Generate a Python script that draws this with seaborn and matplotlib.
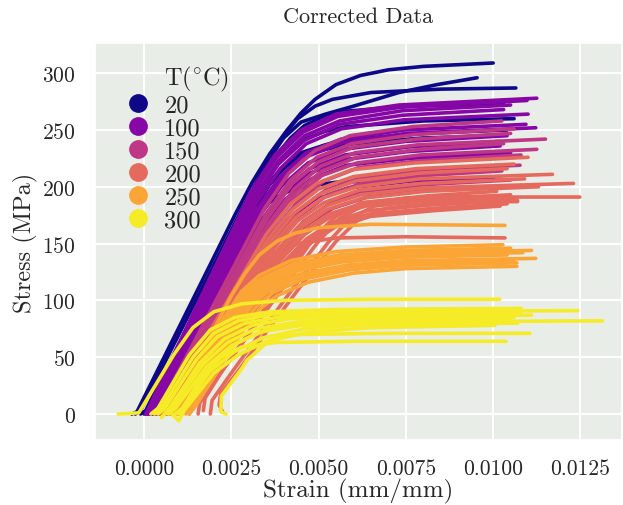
import matplotlib
matplotlib.use("Agg")
import matplotlib.pyplot as plt
import matplotlib.colors as mcolors
from matplotlib.lines import Line2D
import pandas as pd
import seaborn as sns

# ---------------- data (strain in milli-strain, stress in MPa) ----------------
temperatures = [20, 100, 150, 200, 250, 300]

curves_20 = [
    [(-0.35, 0), (-0.2, 2), (2.6, 175), (3.1, 204), (3.6, 229), (4.1, 250), (4.5, 265), (4.9, 277), (5.5, 290), (6.2, 298), (7.0, 303), (8.0, 306), (10.0, 309)],
    [(-0.25, 0), (-0.1, 3), (2.8, 180), (3.2, 203), (3.6, 225), (4.0, 243), (4.5, 257), (5.2, 264), (6.0, 271), (7.3, 283), (8.4, 290), (9.54, 296)],
    [(-0.1, 0), (0.05, 3), (3.0, 185), (3.35, 209), (3.7, 230), (4.05, 247), (4.4, 260), (4.9, 271), (5.4, 277), (6.5, 283), (8.5, 286), (10.65, 287)],
    [(0.0, 0), (0.1, 3), (3.1, 190), (3.45, 211), (3.8, 228), (4.2, 243), (4.6, 254), (5.1, 261), (5.6, 266), (7.5, 271), (10.3, 273)],
    [(0.05, 0), (0.2, 3), (3.1, 183), (3.45, 203), (3.8, 220), (4.2, 233), (4.6, 242), (5.2, 249), (5.8, 253), (8.0, 258), (10.6, 260)],
    [(0.1, 0), (0.25, 3), (3.0, 173), (3.35, 192), (3.7, 208), (4.1, 221), (4.5, 230), (5.2, 237), (6.0, 242), (8.0, 247), (10.4, 250)],
    [(0.15, 0), (0.3, 3), (2.9, 165), (3.25, 185), (3.6, 202), (4.0, 216), (4.4, 226), (5.2, 233), (6.0, 238), (8.0, 243), (10.2, 245)],
    [(0.2, 0), (0.35, 3), (2.8, 155), (3.1, 170), (3.4, 182), (3.8, 191), (4.2, 197), (4.8, 201), (5.5, 204), (10.0, 208)],
]

curves_100 = [
    [(0.05, 0), (3.05, 195), (3.75, 228), (4.5, 250), (5.5, 264), (7.3, 272), (11.25, 278)],
    [(0.1, 0), (3.1, 193), (3.8, 226), (4.55, 248), (5.55, 262), (7.35, 270), (10.97, 276)],
    [(0.15, 0), (3.15, 190), (3.85, 223), (4.6, 245), (5.6, 258), (7.4, 267), (10.5, 272)],
    [(0.15, 0), (3.15, 188), (3.85, 220), (4.6, 241), (5.6, 255), (7.4, 263), (10.3, 268)],
    [(0.2, 0), (3.2, 185), (3.9, 216), (4.65, 238), (5.65, 251), (7.45, 259), (11.0, 264)],
    [(0.2, 0), (3.2, 179), (3.9, 209), (4.65, 230), (5.65, 242), (7.45, 250), (10.94, 255)],
    [(0.25, 0), (3.25, 176), (3.95, 207), (4.7, 227), (5.7, 239), (7.5, 247), (11.22, 252)],
    [(0.25, 0), (3.25, 172), (3.95, 201), (4.7, 221), (5.7, 233), (7.5, 240), (10.4, 245)],
    [(0.3, 0), (3.3, 168), (4.0, 197), (4.75, 216), (5.75, 228), (7.55, 235), (10.2, 240)],
    [(0.3, 0), (3.3, 165), (4.0, 194), (4.75, 212), (5.75, 224), (7.55, 231), (10.2, 236)],
    [(0.35, 0), (3.35, 161), (4.05, 189), (4.8, 207), (5.8, 219), (7.6, 225), (10.5, 230)],
    [(0.4, 0), (3.4, 146), (4.1, 171), (4.85, 188), (5.85, 199), (7.65, 205), (10.2, 209)],
]

curves_150 = [
    [(0.35, 0), (3.45, 181), (4.15, 212), (4.9, 232), (5.9, 245), (7.7, 253), (10.25, 258)],
    [(0.4, 0), (3.5, 176), (4.2, 206), (4.95, 226), (5.95, 238), (7.75, 246), (10.6, 251)],
    [(0.45, 0), (3.55, 173), (4.25, 203), (5.0, 222), (6.0, 235), (7.8, 242), (10.5, 247)],
    [(0.5, 0), (3.6, 169), (4.3, 198), (5.05, 218), (6.05, 230), (7.85, 237), (11.5, 242)],
    [(0.55, 0), (3.65, 167), (4.35, 195), (5.1, 214), (6.1, 226), (7.9, 233), (10.3, 238)],
    [(0.55, 0), (3.65, 163), (4.35, 191), (5.1, 210), (6.1, 221), (7.9, 228), (11.25, 233)],
    [(0.6, 0), (3.7, 160), (4.4, 187), (5.15, 205), (6.15, 217), (7.95, 223), (10.8, 228)],
    [(0.65, 0), (3.75, 153), (4.45, 180), (5.2, 197), (6.2, 208), (8.0, 215), (10.77, 219)],
    [(0.7, 0), (3.8, 150), (4.5, 175), (5.25, 193), (6.25, 203), (8.05, 210), (10.25, 214)],
    [(0.75, 0), (3.85, 144), (4.55, 169), (5.3, 185), (6.3, 196), (8.1, 202), (10.5, 206)],
    [(0.85, 0), (3.95, 141), (4.65, 165), (5.4, 181), (6.4, 191), (8.2, 197), (10.71, 201)],
]

curves_200 = [
    [(0.5, 0), (3.5, 158), (4.2, 185), (4.95, 203), (5.95, 215), (7.75, 221), (11.0, 226)],
    [(0.55, 0), (3.55, 154), (4.25, 180), (5.0, 198), (6.0, 209), (7.8, 216), (10.6, 220)],
    [(0.6, 0), (3.6, 151), (4.3, 177), (5.05, 194), (6.05, 205), (7.85, 212), (10.4, 216)],
    [(0.65, 0), (3.65, 148), (4.35, 173), (5.1, 190), (6.1, 200), (7.9, 207), (11.7, 211)],
    [(0.7, 0), (3.7, 145), (4.4, 170), (5.15, 186), (6.15, 197), (7.95, 203), (10.9, 207)],
    [(0.75, 0), (3.75, 142), (4.45, 166), (5.2, 183), (6.2, 193), (8.0, 199), (12.3, 203)],
    [(0.8, 0), (3.8, 140), (4.5, 164), (5.25, 180), (6.25, 190), (8.05, 196), (11.3, 200)],
    [(0.85, 0), (3.85, 137), (4.55, 161), (5.3, 176), (6.3, 186), (8.1, 192), (10.1, 196)],
    [(0.9, 0), (3.9, 135), (4.6, 158), (5.35, 174), (6.35, 183), (8.15, 189), (10.5, 193)],
    [(0.95, 0), (3.95, 132), (4.65, 154), (5.4, 169), (6.4, 179), (8.2, 184), (10.7, 188)],
    [(1.0, 0), (4.0, 130), (4.7, 152), (5.45, 167), (6.45, 176), (8.25, 181), (10.4, 185)],
    [(1.05, 0), (4.05, 128), (4.75, 150), (5.5, 165), (6.5, 174), (8.3, 179), (10.2, 183)],
    [(1.55, 0), (1.6, 10), (2.1, 32), (3.0, 70), (4.0, 112), (5.0, 152), (5.6, 172), (6.3, 184), (7.5, 190), (10.3, 192)],
    [(1.9, 0), (1.95, 12), (2.5, 36), (3.3, 70), (4.3, 112), (5.3, 152), (5.9, 172), (6.6, 183), (8.0, 188), (10.6, 190)],
    [(2.25, 2), (2.15, 8), (2.2, 18), (2.7, 38), (3.5, 72), (4.5, 113), (5.5, 152), (6.1, 170), (6.9, 181), (8.2, 186), (10.7, 187)],
    [(1.7, 3), (1.75, 14), (2.2, 36), (3.0, 72), (3.9, 113), (4.8, 152), (5.4, 172), (6.2, 186), (8.0, 191), (12.48, 191)],
    [(1.3, 0), (1.4, 12), (2.0, 42), (2.7, 80), (3.3, 115), (3.8, 138), (4.4, 150), (5.5, 155), (7.5, 156), (10.34, 155)],
]

curves_250 = [
    [(0.7, 0), (0.9, 8), (2.1, 80), (2.5, 104), (2.9, 124), (3.3, 140), (3.8, 152), (4.3, 159), (5.0, 164), (6.5, 167), (10.34, 166)],
    [(0.75, 0), (0.95, 8), (2.3, 85), (2.8, 108), (3.3, 122), (4.2, 135), (5.5, 143), (7.5, 147), (10.28, 149)],
    [(0.8, 0), (1.0, 8), (2.35, 83), (2.85, 106), (3.35, 119), (4.25, 132), (5.6, 140), (7.5, 144), (10.5, 146)],
    [(0.85, 0), (1.05, 8), (2.4, 81), (2.9, 104), (3.4, 117), (4.3, 130), (5.6, 138), (7.5, 142), (11.1, 144)],
    [(0.9, 0), (1.1, 8), (2.45, 80), (2.95, 102), (3.45, 115), (4.35, 128), (5.7, 136), (7.5, 140), (10.85, 142)],
    [(0.95, 0), (1.15, 8), (2.5, 79), (3.0, 100), (3.5, 113), (4.4, 126), (5.7, 134), (7.5, 138), (10.4, 140)],
    [(1.0, 0), (1.2, 8), (2.55, 77), (3.05, 98), (3.55, 111), (4.45, 123), (5.8, 131), (7.5, 135), (11.22, 137)],
    [(1.1, 0), (1.3, 8), (2.6, 75), (3.1, 96), (3.6, 109), (4.5, 121), (5.8, 129), (7.5, 133), (10.6, 135)],
    [(1.2, 0), (1.4, 8), (2.7, 74), (3.2, 94), (3.7, 107), (4.6, 119), (5.9, 127), (7.5, 131), (10.68, 133)],
    [(1.3, 0), (1.5, 8), (2.8, 72), (3.3, 92), (3.8, 104), (4.7, 116), (6.0, 124), (7.5, 128), (10.68, 130)],
]

curves_300 = [
    [(-0.74, 0), (-0.15, 1), (0.85, 52), (1.4, 76), (2.0, 90), (2.8, 97), (4.0, 100), (6.5, 101), (10.19, 101)],
    [(0.2, 0), (0.4, 5), (1.3, 52), (1.9, 74), (2.6, 85), (3.6, 90), (5.5, 92), (10.8, 93)],
    [(0.3, 0), (0.5, 5), (1.4, 50), (2.0, 71), (2.7, 82), (3.7, 88), (5.5, 90), (12.42, 91)],
    [(0.4, 0), (0.6, 5), (1.5, 48), (2.1, 68), (2.9, 80), (4.0, 86), (6.0, 88), (10.77, 89)],
    [(0.5, -3), (0.7, 4), (1.6, 45), (2.3, 66), (3.1, 78), (4.2, 84), (6.0, 86), (11.1, 87)],
    [(0.6, 0), (0.8, 5), (1.7, 44), (2.4, 63), (3.2, 75), (4.4, 81), (6.2, 84), (10.6, 85)],
    [(0.8, 0), (1.0, -6), (1.2, 6), (2.0, 45), (2.7, 63), (3.5, 74), (4.7, 80), (6.5, 83), (10.5, 84)],
    [(0.7, 0), (0.9, 5), (1.8, 42), (2.5, 60), (3.3, 72), (4.5, 78), (6.5, 81), (13.13, 82)],
    [(0.9, 0), (1.1, 5), (1.9, 38), (2.6, 55), (3.4, 67), (4.6, 75), (6.5, 79), (10.7, 80)],
    [(1.0, 0), (1.2, 5), (2.0, 36), (2.7, 52), (3.5, 64), (4.7, 72), (6.5, 76), (10.05, 78)],
    [(0.9, 0), (1.1, 5), (1.7, 35), (2.2, 50), (2.8, 59), (3.8, 63), (6.0, 64), (10.37, 64)],
    [(2.35, 0), (2.2, 2), (2.22, 16), (2.51, 28), (2.8, 40), (2.94, 47), (3.27, 56), (3.51, 63), (3.85, 68), (4.5, 70), (7.0, 71), (11.05, 71)],
]

all_curves = [curves_20, curves_100, curves_150, curves_200, curves_250, curves_300]

title_text = "Corrected Data"
x_label = "Strain (mm/mm)"
y_label = "Stress (MPa)"
legend_title = r"T($^{\circ}$C)"
x_ticks = [0.0, 0.0025, 0.005, 0.0075, 0.01, 0.0125]
x_tick_labels = ["0.0000", "0.0025", "0.0050", "0.0075", "0.0100", "0.0125"]
y_ticks = [0, 50, 100, 150, 200, 250, 300]
hue_range = (20, 310)
MILLI = 1e-3

rows = []
for T, curves in zip(temperatures, all_curves):
    for i, curve in enumerate(curves):
        for strain_m, stress in curve:
            rows.append((strain_m * MILLI, stress, T, f"{T}_{i}"))
df = pd.DataFrame(rows, columns=["strain", "stress", "T", "specimen"])

# ---------------- style ----------------
sns.set_theme(style="darkgrid", rc={
    "axes.facecolor": "#e9ede8",
    "grid.color": "white",
    "grid.linewidth": 1.4,
})
plt.rcParams["font.family"] = ["cmr10", "DejaVu Sans"]
plt.rcParams["mathtext.fontset"] = "cm"
plt.rcParams["axes.formatter.use_mathtext"] = True
plt.rcParams["axes.unicode_minus"] = False

fig = plt.figure(figsize=(6.23, 5.06), dpi=100)
ax = fig.add_axes([95 / 623, 1 - 441 / 506, 527 / 623, 397 / 506])

sns.lineplot(data=df, x="strain", y="stress", hue="T", units="specimen",
             estimator=None, sort=False, palette="plasma", hue_norm=hue_range,
             linewidth=2.6, legend=False, ax=ax)

ax.set_xlim(-1.403e-3, 13.69e-3)
ax.set_ylim(-22.9, 326.6)
ax.set_xticks(x_ticks)
ax.set_xticklabels(x_tick_labels)
ax.set_yticks(y_ticks)
ax.tick_params(axis="both", labelsize=15.5, colors="#262626")
ax.tick_params(axis="x", pad=7)
ax.tick_params(axis="y", pad=8)
ax.set_xlabel(x_label, fontsize=18, color="#262626", labelpad=0)
ax.set_ylabel(y_label, fontsize=17.5, color="#262626", labelpad=3)
ax.set_title(title_text, fontsize=16, color="#262626", pad=15)

cmap = plt.get_cmap("plasma")
norm = mcolors.Normalize(vmin=hue_range[0], vmax=hue_range[1])
handles = [Line2D([], [], linestyle="", marker="", color="none")]
labels = [legend_title]
for T in temperatures:
    handles.append(Line2D([], [], linestyle="", marker="o", markersize=12.5,
                          color=cmap(norm(T))))
    labels.append(str(T))
ax.legend(handles, labels, loc="upper left", bbox_to_anchor=(0.044, 0.966),
          frameon=False, fontsize=17.5, handlelength=1.0, handletextpad=0.6,
          labelspacing=0.04, borderpad=0.3, borderaxespad=0)

fig.savefig("out.png", dpi=100)
